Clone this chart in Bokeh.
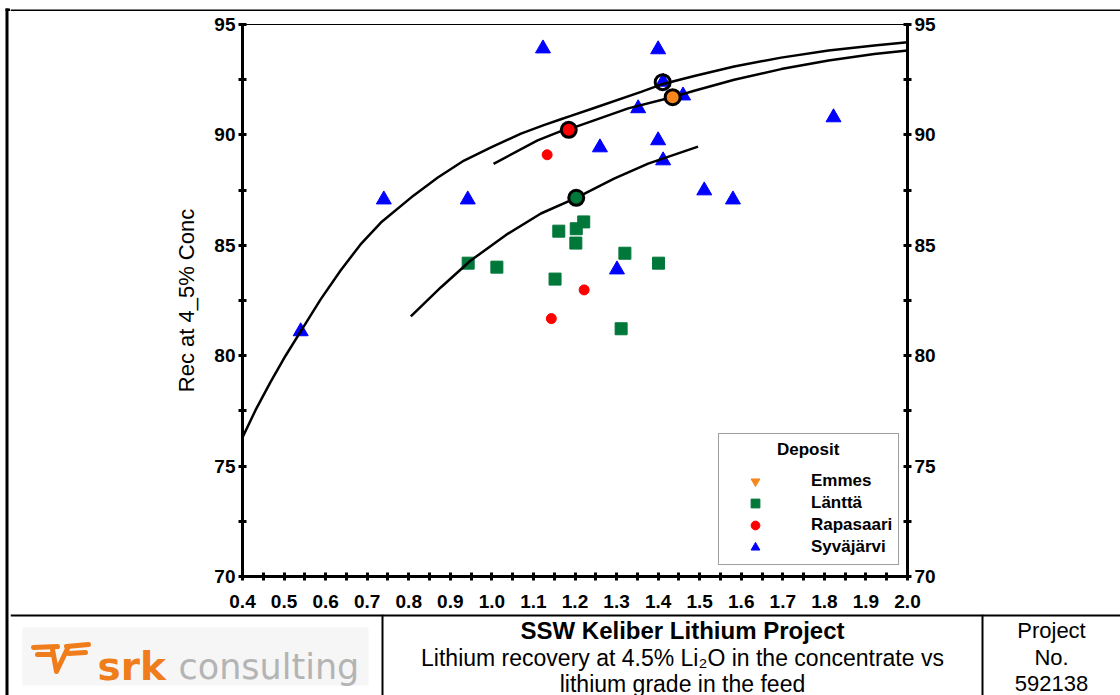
from bokeh.plotting import figure
from bokeh.models import Range1d, LinearAxis, FixedTicker, Legend, LegendItem
from bokeh.layouts import row, column
from bokeh.embed import file_html
from bokeh.resources import INLINE
from bokeh.core.properties import value

FONT = "Liberation Sans"

# ---------------- data ----------------
syv_x = [0.54, 0.74, 0.942, 1.123, 1.26, 1.40, 1.412, 1.46, 1.352, 1.40, 1.412, 1.511, 1.58, 1.822, 1.301]
syv_y = [81.1, 87.07, 87.07, 93.91, 89.43, 93.87, 92.4, 91.78, 91.2, 89.75, 88.84, 87.48, 87.07, 90.79, 83.9]

lan_x = [0.943, 1.012, 1.161, 1.203, 1.221, 1.202, 1.152, 1.320, 1.401, 1.311]
lan_y = [84.19, 84.01, 85.64, 85.75, 86.06, 85.10, 83.47, 84.64, 84.19, 81.22]

rap_x = [1.133, 1.222, 1.143]
rap_y = [89.10, 82.98, 81.68]

emm_x = [1.435]
emm_y = [91.71]

# deposit averages (ringed points)
avg_syv = (1.411, 92.39)
avg_rap = (1.185, 90.23)
avg_lan = (1.203, 87.15)
avg_emm = (1.435, 91.71)

# trend curves
c1_x = [0.40, 0.431, 0.467, 0.504, 0.540, 0.588, 0.636, 0.684, 0.733, 0.812, 0.870, 0.933,
        0.998, 1.070, 1.125, 1.166, 1.190, 1.246, 1.359, 1.407, 1.487, 1.583, 1.696, 1.810, 1.920, 2.0]
c1_y = [76.30, 77.52, 78.79, 80.01, 81.10, 82.55, 83.86, 85.04, 86.03, 87.26, 88.07, 88.84,
        89.43, 90.06, 90.44, 90.71, 90.86, 91.22, 91.95, 92.28, 92.67, 93.10, 93.50, 93.82, 94.05, 94.20]

c2_x = [1.004, 1.110, 1.166, 1.198, 1.246, 1.328, 1.431, 1.487, 1.583, 1.696, 1.810, 1.920, 2.0]
c2_y = [88.69, 89.75, 90.17, 90.34, 90.66, 91.20, 91.69, 92.00, 92.50, 92.98, 93.37, 93.66, 93.82]

c3_x = [0.805, 0.877, 0.949, 1.039, 1.118, 1.203, 1.294, 1.376, 1.496]
c3_y = [81.78, 83.09, 84.31, 85.53, 86.44, 87.15, 88.02, 88.70, 89.47]

x_ticks = [0.4, 0.5, 0.6, 0.7, 0.8, 0.9, 1.0, 1.1, 1.2, 1.3, 1.4, 1.5, 1.6, 1.7, 1.8, 1.9, 2.0]
x_tick_labels = ["0.4", "0.5", "0.6", "0.7", "0.8", "0.9", "1.0", "1.1", "1.2", "1.3", "1.4",
                 "1.5", "1.6", "1.7", "1.8", "1.9", "2.0"]
x_minor = [0.45, 0.55, 0.65, 0.75, 0.85, 0.95, 1.05, 1.15, 1.25, 1.35, 1.45, 1.55, 1.65, 1.75, 1.85, 1.95]
y_ticks = [70, 75, 80, 85, 90, 95]
y_minor = [72.5, 77.5, 82.5, 87.5, 92.5]

deposits = ["Emmes", "Länttä", "Rapasaari", "Syväjärvi"]
colors = {"Emmes": "#f7861c", "Länttä": "#00783a", "Rapasaari": "#ff0000", "Syväjärvi": "#0000ff"}

y_label = "Rec at 4_5% Conc"
title_lines = ["SSW Keliber Lithium Project",
               "Lithium recovery at 4.5% Li\u2082O in the concentrate vs",
               "lithium grade in the feed"]
project_lines = ["Project", "No.", "592138"]


def no_align(f):
    try:
        f.frame_align = False
    except Exception:
        pass


# ---------------- chart ----------------
p = figure(width=1110, height=603, x_range=Range1d(0.4, 2.0), y_range=Range1d(70, 95),
           output_backend="svg", toolbar_location=None,
           min_border_left=232, min_border_right=213, min_border_top=13, min_border_bottom=38)
no_align(p)
p.grid.visible = False
p.outline_line_color = "black"
p.outline_line_width = 1
p.background_fill_color = "white"
p.border_fill_color = "white"


def style_axis(ax, ticks, minor, size="19px"):
    ax.ticker = FixedTicker(ticks=ticks, minor_ticks=minor)
    ax.axis_line_width = 3
    ax.axis_line_color = "black"
    ax.major_tick_line_width = 3
    ax.minor_tick_line_width = 3
    ax.major_tick_in = 4
    ax.major_tick_out = 4
    ax.minor_tick_in = 4
    ax.minor_tick_out = 4
    ax.major_label_text_font = FONT
    ax.major_label_text_font_style = "bold"
    ax.major_label_text_font_size = size
    ax.major_label_text_color = "black"


xa = p.xaxis[0]
style_axis(xa, x_ticks, x_minor)
xa.major_label_overrides = {t: l for t, l in zip(x_ticks, x_tick_labels)}
xa.major_label_standoff = 14

ya = p.yaxis[0]
style_axis(ya, y_ticks, y_minor)
ya.major_label_standoff = 3
ya.axis_label = y_label
ya.axis_label_text_font = FONT
ya.axis_label_text_font_style = "normal"
ya.axis_label_text_font_size = "22px"
ya.axis_label_text_color = "black"
ya.axis_label_standoff = 12

yr = LinearAxis()
style_axis(yr, y_ticks, y_minor)
yr.major_label_standoff = 3
p.add_layout(yr, "right")

# points
r_syv = p.scatter(syv_x, syv_y, marker="triangle", size=15, fill_color=colors["Syväjärvi"],
                  line_color=colors["Syväjärvi"], line_width=1)
r_lan = p.scatter(lan_x, lan_y, marker="square", size=12, fill_color=colors["Länttä"],
                  line_color=colors["Länttä"], line_width=1)
r_rap = p.scatter(rap_x, rap_y, marker="circle", size=10, fill_color=colors["Rapasaari"],
                  line_color=colors["Rapasaari"], line_width=1)
r_emm = p.scatter(emm_x, emm_y, marker="inverted_triangle", size=15, fill_color=colors["Emmes"],
                  line_color=colors["Emmes"], line_width=1)

# curves
for cx, cy in [(c1_x, c1_y), (c2_x, c2_y), (c3_x, c3_y)]:
    p.line(cx, cy, line_color="black", line_width=2.5)

# ringed averages
p.scatter([avg_syv[0]], [avg_syv[1]], marker="circle", size=15, fill_color=None,
          line_color="black", line_width=3)
p.scatter([avg_rap[0]], [avg_rap[1]], marker="circle", size=15, fill_color=colors["Rapasaari"],
          line_color="black", line_width=3)
p.scatter([avg_lan[0]], [avg_lan[1]], marker="circle", size=15, fill_color=colors["Länttä"],
          line_color="black", line_width=3)
p.scatter([avg_emm[0]], [avg_emm[1]], marker="circle", size=15, fill_color=colors["Emmes"],
          line_color="black", line_width=3)

legend = Legend(items=[LegendItem(label=deposits[0], renderers=[r_emm]),
                       LegendItem(label=deposits[1], renderers=[r_lan]),
                       LegendItem(label=deposits[2], renderers=[r_rap]),
                       LegendItem(label=deposits[3], renderers=[r_syv])],
                location=(476, 11), title="\u00a0" * 11 + "Deposit")
legend.title_text_font = FONT
legend.title_text_font_style = "bold"
legend.title_text_font_size = "17px"
legend.title_text_color = "black"
legend.title_standoff = 10
legend.label_text_font = FONT
legend.label_text_font_style = "bold"
legend.label_text_font_size = "17px"
legend.label_text_color = "black"
legend.padding = 6
legend.spacing = 0
legend.glyph_width = 60
legend.glyph_height = 22
legend.label_height = 22
legend.label_standoff = 26
legend.border_line_color = "#404040"
legend.border_line_width = 1.5
legend.background_fill_color = "white"
legend.background_fill_alpha = 1
legend.margin = 0
p.add_layout(legend)


# ---------------- page frame pieces ----------------
def blank(w, h, xr, yr_):
    f = figure(width=w, height=h, x_range=Range1d(*xr), y_range=Range1d(*yr_),
               output_backend="svg", toolbar_location=None,
               x_axis_type=None, y_axis_type=None, min_border=0)
    no_align(f)
    f.grid.visible = False
    f.outline_line_color = None
    f.background_fill_color = "white"
    f.border_fill_color = "white"
    return f


left_fig = blank(10, 695, (0, 10), (695, 0))
left_fig.quad(left=[5, 5], right=[8, 10], top=[8, 8], bottom=[695, 10.6], fill_color="black",
              line_color=None)

head_fig = blank(1110, 11, (10, 1120), (11, 0))
head_fig.quad(left=[10], right=[1120], top=[8], bottom=[10.6], fill_color="black", line_color=None)

# ---------------- title block ----------------
t = blank(1110, 81, (10, 1120), (695, 614))

t.quad(left=[10], right=[1120], top=[613.5], bottom=[616], fill_color="black", line_color=None)
t.segment(x0=[382, 982], y0=[614, 614], x1=[382, 982], y1=[695, 695], line_color="black", line_width=2)

# logo
t.quad(left=[22], right=[368], top=[627], bottom=[685], fill_color="#f6f6f6", line_color=None)
orange = "#f07d1c"
t.multi_line(xs=[[33, 57], [37, 52], [52, 56, 68], [66, 88], [68, 85]],
             ys=[[647, 646], [654, 654], [649, 671, 646], [646, 644], [653, 652]],
             line_color=orange, line_width=5, line_cap="round", line_join="round")
t.text(x=[97], y=[666], text=["srk"], text_font=value("DejaVu Sans"), text_font_style="bold",
       text_font_size="39px", text_color=orange, text_baseline="alphabetic", text_align="left")
t.text(x=[178], y=[666], text=["consulting"], text_font=value("DejaVu Sans"), text_font_style="normal",
       text_font_size="35px", text_color="#b4b4b4", text_baseline="alphabetic", text_align="left")

t.text(x=[682], y=[630], text=[title_lines[0]], text_font=value(FONT), text_font_style="bold",
       text_font_size="24px", text_color="black", text_baseline="middle", text_align="center")
t.text(x=[682, 682], y=[657, 683], text=title_lines[1:], text_font=value(FONT),
       text_font_size="23px", text_color="black", text_baseline="middle", text_align="center")
t.text(x=[1051, 1051, 1051], y=[630, 657, 683], text=project_lines, text_font=value(FONT),
       text_font_size="22px", text_color="black", text_baseline="middle", text_align="center")

layout = row(left_fig, column(head_fig, p, t))
open("out.html", "w").write(file_html(layout, INLINE))
